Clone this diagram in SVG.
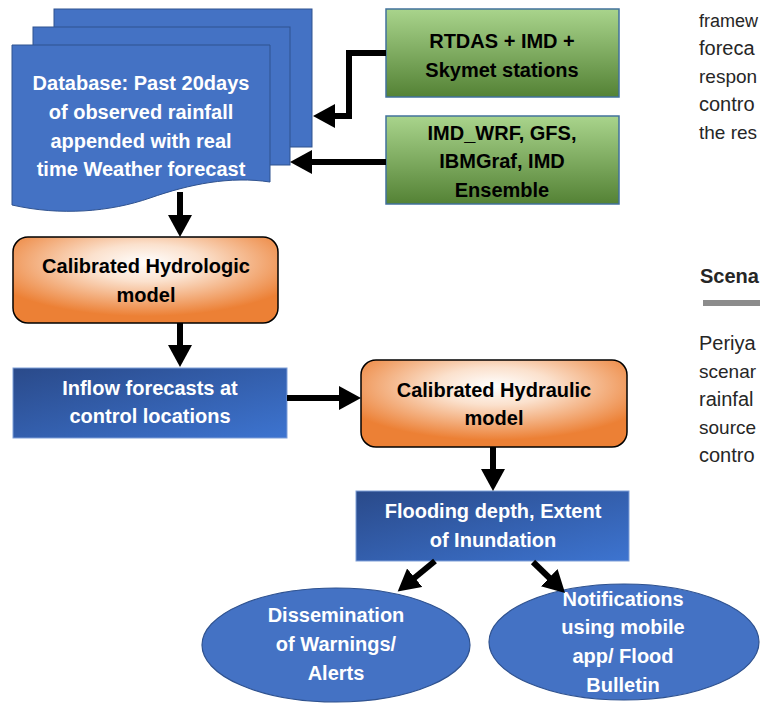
<svg xmlns="http://www.w3.org/2000/svg" width="760" height="707" viewBox="0 0 760 707">
<defs>
<linearGradient id="gGreen" x1="0" y1="0" x2="0" y2="1">
<stop offset="0" stop-color="#a9d48c"/>
<stop offset="1" stop-color="#548235"/>
</linearGradient>
<radialGradient id="gOrange" cx="0.5" cy="0.3" r="0.62">
<stop offset="0" stop-color="#ffffff"/>
<stop offset="0.35" stop-color="#fbe1cd"/>
<stop offset="1" stop-color="#ec8035"/>
</radialGradient>
<linearGradient id="gBlue" x1="0" y1="0" x2="1" y2="1">
<stop offset="0" stop-color="#2a4a8a"/>
<stop offset="1" stop-color="#3d74d0"/>
</linearGradient>
<marker id="ah" markerUnits="userSpaceOnUse" markerWidth="24" markerHeight="26" refX="4" refY="12" orient="auto">
<path d="M0,0 L22,12 L0,24 Z" fill="#000"/>
</marker>
<style>
.wt{font-family:"Liberation Sans",Arial,sans-serif;font-weight:bold;font-size:20px;fill:#fff;text-anchor:middle}
.bk{font-family:"Liberation Sans",Arial,sans-serif;font-weight:bold;font-size:20px;fill:#000;text-anchor:middle}
.page{fill:#4472c4;stroke:#2f528f;stroke-width:1}
.green{fill:url(#gGreen);stroke:#41719c;stroke-width:1.5}
.orange{fill:url(#gOrange);stroke:#000;stroke-width:1.5}
.blue{fill:url(#gBlue);stroke:#7f9fd8;stroke-width:1}
.ell{fill:#4472c4;stroke:#2f528f;stroke-width:1.2}
.con{fill:none;stroke:#000;stroke-width:6;marker-end:url(#ah)}
.para{font-family:"Liberation Sans",Arial,sans-serif;font-size:20px;fill:#262626}
.sm{font-size:19px}
.xs{font-size:18px}
.head{font-family:"Liberation Sans",Arial,sans-serif;font-size:20px;font-weight:bold;fill:#262626}
</style>
</defs>

<g id="database">
<rect class="page" x="54" y="9" width="258" height="138"/>
<rect class="page" x="33" y="27" width="257" height="138"/>
<path class="page" d="M12,45 H270 V182 C230,176 190,184 150,198 C110,212 60,216 12,205 Z"/>
<text class="wt" x="141" y="90">Database: Past 20days</text>
<text class="wt" x="141" y="119">of observed rainfall</text>
<text class="wt" x="141" y="148">appended with real</text>
<text class="wt" x="141" y="176">time Weather forecast</text>
</g>

<g id="rtdas">
<rect class="green" x="386" y="9" width="233" height="88"/>
<text class="bk" x="502" y="48">RTDAS + IMD +</text>
<text class="bk" x="502" y="77">Skymet stations</text>
</g>

<g id="nwp">
<rect class="green" x="386" y="116" width="233" height="88"/>
<text class="bk" x="502" y="140">IMD_WRF, GFS,</text>
<text class="bk" x="502" y="168">IBMGraf, IMD</text>
<text class="bk" x="502" y="197">Ensemble</text>
</g>

<g id="hydrologic">
<rect class="orange" x="13" y="237" width="265" height="86" rx="15"/>
<text class="bk" x="146" y="273">Calibrated Hydrologic</text>
<text class="bk" x="146" y="302">model</text>
</g>

<g id="inflow">
<rect class="blue" x="13" y="368" width="274" height="70"/>
<text class="wt" x="150" y="395">Inflow forecasts at</text>
<text class="wt" x="150" y="423">control locations</text>
</g>

<g id="hydraulic">
<rect class="orange" x="361" y="360" width="266" height="87" rx="15"/>
<text class="bk" x="494" y="397">Calibrated Hydraulic</text>
<text class="bk" x="494" y="425">model</text>
</g>

<g id="flooding">
<rect class="blue" x="356" y="491" width="273" height="70"/>
<text class="wt" x="493" y="518">Flooding depth, Extent</text>
<text class="wt" x="493" y="547">of Inundation</text>
</g>

<g id="dissemination">
<ellipse class="ell" cx="336" cy="645" rx="134" ry="57"/>
<text class="wt" x="336" y="622">Dissemination</text>
<text class="wt" x="336" y="651">of Warnings/</text>
<text class="wt" x="336" y="680">Alerts</text>
</g>

<g id="notifications">
<ellipse class="ell" cx="624" cy="642" rx="135" ry="58"/>
<text class="wt" x="623" y="606">Notifications</text>
<text class="wt" x="623" y="634">using mobile</text>
<text class="wt" x="623" y="663">app/ Flood</text>
<text class="wt" x="623" y="692">Bulletin</text>
</g>

<g id="connectors">
<polyline class="con" points="386,53 349,53 349,116 331,116"/>
<line class="con" x1="386" y1="162" x2="308" y2="162"/>
<line class="con" x1="180" y1="192" x2="180" y2="219"/>
<line class="con" x1="180" y1="323" x2="180" y2="349"/>
<line class="con" x1="287" y1="398" x2="343" y2="398"/>
<line class="con" x1="493" y1="447" x2="493" y2="473"/>
<line class="con" x1="435" y1="561" x2="411.6" y2="580.2"/>
<line class="con" x1="533" y1="562" x2="552.1" y2="580.5"/>
</g>

<g id="side-text">
<text class="para xs" x="699" y="27">framew</text>
<text class="para" x="699" y="55">foreca</text>
<text class="para sm" x="699" y="83">respon</text>
<text class="para" x="699" y="111">contro</text>
<text class="para sm" x="699" y="139">the res</text>
<text class="head" x="700" y="283">Scena</text>
<rect x="703" y="300" width="57" height="6" fill="#8c8c8c"/>
<text class="para" x="699" y="350">Periya</text>
<text class="para sm" x="699" y="378">scenar</text>
<text class="para" x="699" y="406">rainfal</text>
<text class="para sm" x="699" y="434">source</text>
<text class="para" x="699" y="462">contro</text>
</g>
</svg>
